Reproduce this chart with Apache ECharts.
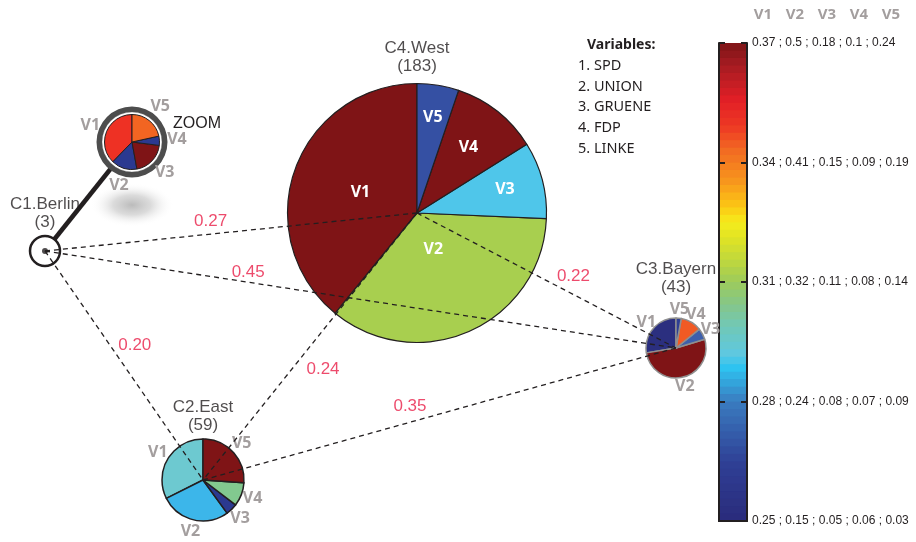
<!DOCTYPE html>
<html><head><meta charset="utf-8">
<script src="https://cdn.jsdelivr.net/npm/echarts@6/dist/echarts.min.js"></script>
<style>html,body{margin:0;padding:0;background:#fff}#c{width:916px;height:542px}</style>
</head><body><div id="c"></div>
<script>
// ---------------- data ----------------
const variables = ['V1', 'V2', 'V3', 'V4', 'V5'];
const parties = ['SPD', 'UNION', 'GRUENE', 'FDP', 'LINKE'];
const clusterNames = ['C1.Berlin', 'C2.East', 'C3.Bayern', 'C4.West'];
const clusterSizes = [3, 59, 43, 183];
const sharesBerlin = [0.375, 0.150, 0.200, 0.054, 0.214];
const sharesEast   = [0.324, 0.276, 0.046, 0.093, 0.261];
const sharesBayern = [0.276, 0.521, 0.061, 0.114, 0.028];
const sharesWest   = [0.391, 0.352, 0.096, 0.109, 0.052];
const edgeFrom = [0, 0, 0, 3, 3, 1];
const edgeTo   = [3, 2, 1, 2, 1, 2];
const edgeDistances = [0.27, 0.45, 0.20, 0.22, 0.24, 0.35];
const colorbarTickLabels = [
  '0.25 ; 0.15 ; 0.05 ; 0.06 ; 0.03',
  '0.28 ; 0.24 ; 0.08 ; 0.07 ; 0.09',
  '0.31 ; 0.32 ; 0.11 ; 0.08 ; 0.14',
  '0.34 ; 0.41 ; 0.15 ; 0.09 ; 0.19',
  '0.37 ; 0.5 ; 0.18 ; 0.1 ; 0.24'
];

// ---------------- styles / layout ----------------
const colorsBerlin = ['#ee3124', '#2b3990', '#7f1416', '#2b3990', '#f26522'];
const colorsEast   = ['#6dc9d0', '#3cb6ea', '#2b3990', '#82c98f', '#7f1416'];
const colorsBayern = ['#2b2f7f', '#7f1416', '#3d5fac', '#f15a24', '#2e3f94'];
const colorsWest   = ['#7f1416', '#a8cf4f', '#4fc6ea', '#7f1416', '#3550a3'];
const nodeCenters = [[45, 251], [203, 480], [676, 348], [417, 213]];
const zoomCenter = [132, 142];
const pieRadius = [27.5, 41, 30, 129.5];
const nodeLabelDistance = [20, 46, 52, 138];
const edgeLabelT = [0.445, 0.322, 0.41, 0.604, 0.584, 0.4376];
const edgeLabelOffset = [[0, -13], [0, -10], [25, 0], [0, -18], [31, 0], [0, -16]];
const westLabelRadius = [60, 40, 91, 83, 97];
const GRAY = '#a39e9e', INK = '#231f20', RED = '#e91e47';
const cbStops = [
  [0.00, '#2a2b7b'], [0.12, '#2f3f95'], [0.25, '#3a7cc0'], [0.32, '#2ec3f0'],
  [0.35, '#5ec8e0'], [0.41, '#72c8b4'], [0.45, '#84c68c'], [0.50, '#9dcb5b'],
  [0.54, '#bcd640'], [0.59, '#dfe325'], [0.625, '#f5ec1c'], [0.657, '#fcc814'],
  [0.713, '#f7941d'], [0.776, '#f26a22'], [0.824, '#ee3a24'], [0.88, '#e21f26'],
  [0.95, '#a81c22'], [1.00, '#7d1517']
];
function hex(c){return [1,3,5].map(i=>parseInt(c.substr(i,2),16));}
function bandColor(f){
  for (let k=1;k<cbStops.length;k++){
    if (f <= cbStops[k][0]) {
      const a=cbStops[k-1], b=cbStops[k], t=(f-a[0])/(b[0]-a[0]);
      const ca=hex(a[1]), cb=hex(b[1]);
      return 'rgb('+ca.map((v,i)=>Math.round(v+(cb[i]-v)*t)).join(',')+')';
    }
  }
  return cbStops[cbStops.length-1][1];
}
const NB = 64;
const bandColors = [];
for (let i=0;i<NB;i++) bandColors.push(bandColor((i+0.5)/NB));
// background gradient (top -> bottom) to fill sub-pixel seams between bands
const cbGradient = new echarts.graphic.LinearGradient(0, 1, 0, 0,
  cbStops.map(s=>({offset:s[0], color:s[1]})));

function pieLabelLayout(shares, center, radii){
  const total = shares.reduce((a,b)=>a+b,0);
  return function(p){
    let cum=0; for (let k=0;k<p.dataIndex;k++) cum+=shares[k];
    const mid=(cum+shares[p.dataIndex]/2)/total*2*Math.PI;
    const R=Array.isArray(radii)?radii[p.dataIndex]:radii;
    return {x:center[0]-R*Math.sin(mid), y:center[1]-R*Math.cos(mid), align:'center', verticalAlign:'middle'};
  };
}
function pieSeries(shares, colors, center, r, border, labelColor, labelR, inside){
  return {
    type:'pie', center:center, radius:r, clockwise:false, startAngle:90,
    avoidLabelOverlap:false, silent:true, z:4, animation:false,
    itemStyle:{borderColor:border[0], borderWidth:border[1]},
    label:{show:true, position: inside?'inside':'outside', color:labelColor,
      fontFamily:'Open Sans', fontWeight:'bold', fontSize:16, formatter:'{b}'},
    labelLine:{show:false},
    labelLayout: pieLabelLayout(shares, center, labelR),
    emphasis:{disabled:true},
    data: variables.map((v,i)=>({name:v, value:shares[i], itemStyle:{color:colors[i]}}))
  };
}
function lerp(a,b,t){return [a[0]+(b[0]-a[0])*t, a[1]+(b[1]-a[1])*t];}

const edgeLines = edgeFrom.map((f,i)=>({coords:[nodeCenters[f], nodeCenters[edgeTo[i]]]}));
const edgeLabelPts = edgeFrom.map((f,i)=>{
  const p=lerp(nodeCenters[f], nodeCenters[edgeTo[i]], edgeLabelT[i]);
  return [p[0]+edgeLabelOffset[i][0], p[1]+edgeLabelOffset[i][1]];
});

const chart = echarts.init(document.getElementById('c'));
const graphics = [
  {type:'circle', x:132, y:205, scaleX:1.9, scaleY:1, z:0, silent:true,
   shape:{cx:0, cy:0, r:22},
   style:{fill:new echarts.graphic.RadialGradient(0.5, 0.5, 0.5, [
     {offset:0, color:'rgba(175,175,175,0.85)'},
     {offset:0.45, color:'rgba(195,195,195,0.6)'},
     {offset:1, color:'rgba(255,255,255,0)'}])}},
  {type:'text', x:197, y:124, z:10, style:{text:'ZOOM', fill:INK, fontSize:16, fontFamily:'Liberation Sans', align:'center', verticalAlign:'middle'}},
  {type:'text', x:587, y:45, z:10, style:{text:'Variables:', fill:INK, fontSize:14, fontWeight:'bold', fontFamily:'Noto Sans', verticalAlign:'middle'}}
].concat(parties.map((p,i)=>({type:'text', x:578, y:66+i*20.6, z:10,
  style:{text:(i+1)+'. '+p, fill:INK, fontSize:14.5, fontFamily:'Noto Sans', verticalAlign:'middle'}})))
 .concat(variables.map((v,i)=>({type:'text', x:763+i*32, y:15, z:10,
  style:{text:v, fill:GRAY, fontSize:15, fontWeight:'bold', fontFamily:'Open Sans', align:'center', verticalAlign:'middle'}})));

const option = {
  animation:false,
  backgroundColor:'#fff',
  graphic: graphics,
  grid:[
    {left:0, top:0, width:916, height:542},
    {left:719, top:43, width:28, height:478, show:true, borderWidth:0, backgroundColor:cbGradient}
  ],
  xAxis:[
    {gridIndex:0, type:'value', min:0, max:916, show:false},
    {gridIndex:1, type:'value', min:0, max:1, position:'bottom',
     axisLine:{show:true, lineStyle:{color:INK, width:2}}, axisTick:{show:false}, axisLabel:{show:false}, splitLine:{show:false}},
    {gridIndex:1, type:'value', min:0, max:1, position:'top',
     axisLine:{show:true, lineStyle:{color:INK, width:2}}, axisTick:{show:false}, axisLabel:{show:false}, splitLine:{show:false}}
  ],
  yAxis:[
    {gridIndex:0, type:'value', min:0, max:542, inverse:true, show:false},
    {gridIndex:1, type:'value', min:0, max:NB, interval:1, position:'left',
     axisLine:{show:false}, axisTick:{show:false}, axisLabel:{show:false}, splitLine:{show:false},
     splitArea:{show:true, areaStyle:{color:bandColors}}},
    {gridIndex:1, type:'value', min:0, max:4, interval:1, position:'left',
     axisLine:{show:true, onZero:false, lineStyle:{color:INK, width:2}},
     axisTick:{show:true, inside:true, length:6, lineStyle:{color:INK, width:2}},
     axisLabel:{show:false}, splitLine:{show:false}},
    {gridIndex:1, type:'value', min:0, max:4, interval:1, position:'right',
     axisLine:{show:true, onZero:false, lineStyle:{color:INK, width:2}},
     axisTick:{show:true, inside:true, length:6, lineStyle:{color:INK, width:2}},
     axisLabel:{show:true, margin:5, color:INK, fontSize:12, fontFamily:'Liberation Sans',
       formatter:(v)=>colorbarTickLabels[Math.round(v)]},
     splitLine:{show:false}}
  ],
  series:[
    // thick link from Berlin node to its zoomed pie
    {type:'line', xAxisIndex:0, yAxisIndex:0, z:1, symbol:'none', silent:true,
     lineStyle:{color:INK, width:4.5}, data:[nodeCenters[0], zoomCenter]},
    // zoom ring + white disc
    {type:'pie', center:zoomCenter, radius:[0, 30], z:2, silent:true, label:{show:false}, labelLine:{show:false},
     itemStyle:{color:'#fff', borderColor:'#c8c8c8', borderWidth:1}, data:[{value:1, name:''}]},
    {type:'pie', center:zoomCenter, radius:[30, 35.5], z:2, silent:true, label:{show:false}, labelLine:{show:false},
     itemStyle:{color:'#4d4d4d'}, data:[{value:1, name:''}]},
    // Berlin node circle
    {type:'scatter', xAxisIndex:0, yAxisIndex:0, z:3, silent:true, symbol:'circle', symbolSize:30,
     itemStyle:{color:'#fff', borderColor:INK, borderWidth:2.5, opacity:1}, data:[nodeCenters[0]]},
    pieSeries(sharesBerlin, colorsBerlin, zoomCenter, pieRadius[0], [INK, 1], GRAY, 45, false),
    pieSeries(sharesEast, colorsEast, nodeCenters[1], pieRadius[1], [INK, 1.5], GRAY, 53, false),
    pieSeries(sharesBayern, colorsBayern, nodeCenters[2], pieRadius[2], ['#8f8f8f', 1.5], GRAY, 39, false),
    pieSeries(sharesWest, colorsWest, nodeCenters[3], pieRadius[3], [INK, 1.2], '#ffffff', westLabelRadius, true),
    // dashed distance edges
    {type:'lines', coordinateSystem:'cartesian2d', xAxisIndex:0, yAxisIndex:0, z:5, silent:true,
     lineStyle:{color:INK, width:1.3, type:[5, 4], opacity:1}, data:edgeLines},
    // Berlin node dot
    {type:'scatter', xAxisIndex:0, yAxisIndex:0, z:6, silent:true, symbol:'circle', symbolSize:6,
     itemStyle:{color:INK}, data:[nodeCenters[0]]},
    // edge distance labels
    {type:'scatter', xAxisIndex:0, yAxisIndex:0, z:6, silent:true, symbolSize:0,
     label:{show:true, position:'inside', color:RED, fontSize:17, fontFamily:'Liberation Sans',
       formatter:(p)=>edgeDistances[p.dataIndex].toFixed(2)},
     data:edgeLabelPts},
    // cluster name labels
    {type:'scatter', xAxisIndex:0, yAxisIndex:0, z:6, silent:true, symbolSize:0,
     data: nodeCenters.map((c,i)=>({value:c, label:{distance:nodeLabelDistance[i]}})),
     label:{show:true, position:'top', color:INK, fontSize:17, lineHeight:18, align:'center', fontFamily:'Liberation Sans',
       formatter:(p)=>clusterNames[p.dataIndex]+'\n('+clusterSizes[p.dataIndex]+')'}}
  ]
};
chart.setOption(option);
</script></body></html>
